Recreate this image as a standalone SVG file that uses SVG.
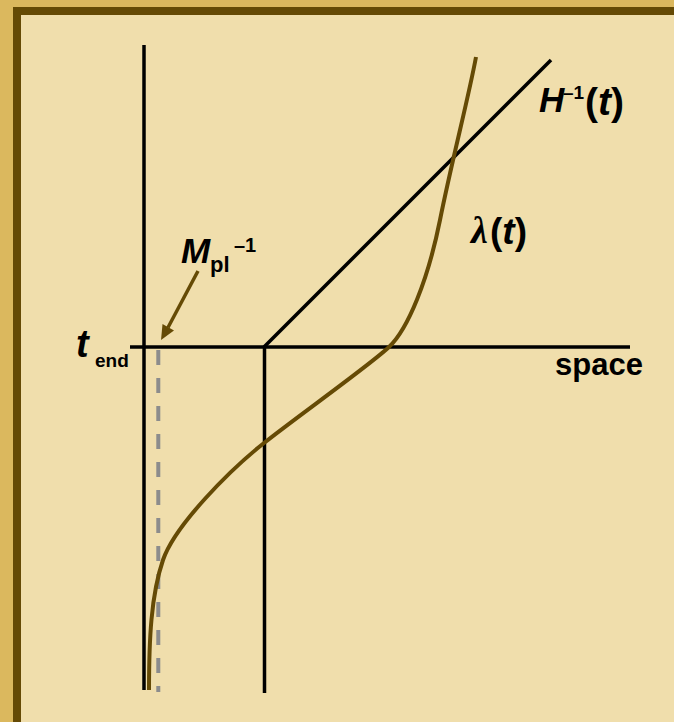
<svg xmlns="http://www.w3.org/2000/svg" width="674" height="722" viewBox="0 0 674 722">
<style>
.ax{stroke:#000;stroke-width:3.5;fill:none;stroke-linecap:butt}
.br{stroke:#654A05;fill:none}
.t{font-family:"Liberation Sans",Arial,sans-serif;font-weight:bold;fill:#000}
.i{font-style:italic}
</style>
<g id="frame">
<rect x="0" y="0" width="674" height="722" fill="#DBB85E"/>
<rect x="13" y="7" width="661" height="715" fill="#654A05"/>
<rect x="21" y="15" width="653" height="707" fill="#F0DEAC"/>
</g>
<g id="connectors">
<line class="ax" x1="144" y1="45" x2="144" y2="690"/>
<line class="ax" x1="130" y1="347" x2="630" y2="347"/>
<line class="ax" x1="264.5" y1="347" x2="264.5" y2="693"/>
<line class="ax" x1="264" y1="347" x2="551" y2="60"/>
<line x1="158.3" y1="350" x2="158.3" y2="692" stroke="#8C8C8C" stroke-width="4" stroke-dasharray="15,13"/>
<path class="br" stroke-width="4" d="M149,690 C149,640 151,595 163,560 S230,470 264,443 S370,365 389,347 S428,280 440,220 S468,100 476,57"/>
<line class="br" stroke-width="3.5" x1="198" y1="271" x2="168" y2="327.5"/>
<polygon points="161,340 174,330.5 162.5,324" fill="#654A05"/>
</g>
<g id="label-tend">
<text class="t" x="76" y="357"><tspan class="i" font-size="38">t</tspan><tspan font-size="19" x="95" y="367">end</tspan></text>
</g>
<g id="label-mpl">
<text class="t" x="181" y="263"><tspan class="i" font-size="35">M</tspan><tspan font-size="22" x="210" y="272">pl</tspan><tspan font-size="20" x="234" y="252">–1</tspan></text>
</g>
<g id="label-hinv">
<text class="t" x="539" y="112"><tspan class="i" font-size="35">H</tspan><tspan font-size="19" x="563" y="99">–1</tspan><tspan font-size="39" x="585" y="115">(</tspan><tspan class="i" font-size="39">t</tspan><tspan font-size="39">)</tspan></text>
</g>
<g id="label-lambda">
<text x="471" y="243" font-family="'Liberation Serif','Times New Roman',serif" font-style="italic" font-weight="bold" font-size="38" fill="#000">λ</text>
<text class="t" x="490" y="244" font-size="37">(<tspan class="i">t</tspan>)</text>
</g>
<g id="label-space">
<text class="t" x="555" y="375" font-size="31">space</text>
</g>
</svg>
